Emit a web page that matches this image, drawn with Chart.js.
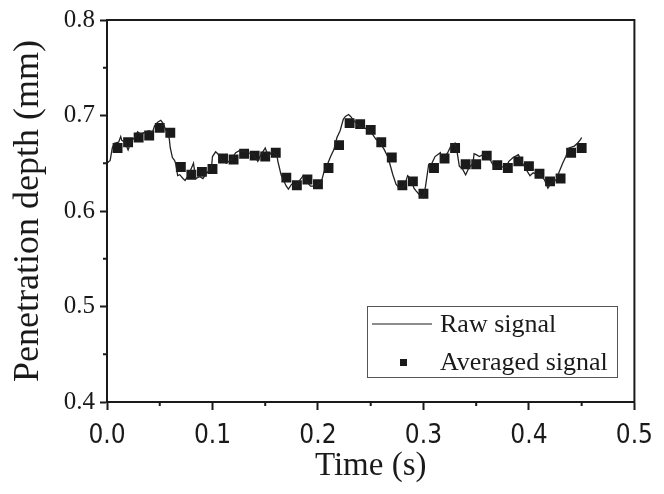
<!DOCTYPE html>
<html lang="en">
<head>
<meta charset="UTF-8">
<title>Penetration depth</title>
<script src="https://cdn.jsdelivr.net/npm/chart.js@4.4.1/dist/chart.umd.min.js"></script>
<style>
    body { margin: 0; background: #fff; }
    #wrap { width: 664px; height: 494px; }
</style>
</head>
<body>
<div id="wrap"><canvas id="grafico" width="664" height="494"></canvas></div>

<script>
    // raw signal
    const rawTime = [0, 0.003, 0.005, 0.007, 0.011, 0.013, 0.014, 0.017, 0.020, 0.023,
        0.027, 0.029, 0.032, 0.035, 0.040, 0.043, 0.045, 0.048, 0.051, 0.053,
        0.055, 0.059, 0.060, 0.062, 0.064, 0.065, 0.067, 0.069, 0.072, 0.074,
        0.077, 0.082, 0.084, 0.088, 0.091, 0.094, 0.099, 0.100, 0.103, 0.105,
        0.108, 0.113, 0.117, 0.122, 0.125, 0.130, 0.134, 0.139, 0.143, 0.145,
        0.150, 0.153, 0.156, 0.161, 0.162, 0.165, 0.167, 0.170, 0.172, 0.175,
        0.179, 0.182, 0.186, 0.189, 0.193, 0.198, 0.203, 0.206, 0.209, 0.212,
        0.215, 0.218, 0.221, 0.224, 0.226, 0.229, 0.231, 0.233, 0.237, 0.240,
        0.243, 0.247, 0.252, 0.255, 0.258, 0.263, 0.266, 0.268, 0.271, 0.274,
        0.277, 0.282, 0.285, 0.288, 0.291, 0.293, 0.297, 0.300, 0.302, 0.305,
        0.308, 0.311, 0.316, 0.317, 0.320, 0.323, 0.326, 0.330, 0.332, 0.334,
        0.337, 0.340, 0.343, 0.347, 0.348, 0.350, 0.353, 0.358, 0.362, 0.365,
        0.368, 0.373, 0.378, 0.381, 0.385, 0.390, 0.394, 0.397, 0.401, 0.404,
        0.408, 0.411, 0.415, 0.418, 0.421, 0.426, 0.429, 0.432, 0.435, 0.438,
        0.443, 0.446, 0.449, 0.450];
    const rawDepth = [0.650, 0.653, 0.666, 0.671, 0.672, 0.678, 0.674, 0.672, 0.664, 0.673,
        0.678, 0.683, 0.680, 0.682, 0.684, 0.682, 0.689, 0.693, 0.695, 0.692,
        0.687, 0.676, 0.666, 0.656, 0.653, 0.650, 0.637, 0.638, 0.634, 0.632,
        0.637, 0.650, 0.634, 0.636, 0.634, 0.639, 0.645, 0.657, 0.662, 0.660,
        0.654, 0.650, 0.653, 0.661, 0.663, 0.663, 0.661, 0.659, 0.652, 0.657,
        0.666, 0.657, 0.662, 0.659, 0.652, 0.638, 0.633, 0.626, 0.623, 0.628,
        0.626, 0.631, 0.637, 0.631, 0.626, 0.626, 0.630, 0.642, 0.649, 0.657,
        0.664, 0.677, 0.684, 0.696, 0.699, 0.701, 0.699, 0.696, 0.691, 0.687,
        0.688, 0.685, 0.680, 0.675, 0.673, 0.664, 0.657, 0.650, 0.638, 0.628,
        0.624, 0.626, 0.637, 0.634, 0.624, 0.621, 0.616, 0.614, 0.626, 0.649,
        0.650, 0.657, 0.661, 0.652, 0.657, 0.661, 0.668, 0.671, 0.661, 0.647,
        0.644, 0.638, 0.645, 0.650, 0.660, 0.659, 0.657, 0.660, 0.656, 0.650,
        0.645, 0.647, 0.645, 0.652, 0.656, 0.659, 0.650, 0.644, 0.637, 0.640,
        0.638, 0.638, 0.632, 0.624, 0.629, 0.633, 0.642, 0.650, 0.657, 0.666,
        0.668, 0.671, 0.675, 0.677];

    // averaged signal
    const avgTime = [0.01, 0.02, 0.03, 0.04, 0.05, 0.06, 0.07, 0.08, 0.09, 0.10,
        0.11, 0.12, 0.13, 0.14, 0.15, 0.16, 0.17, 0.18, 0.19, 0.20,
        0.21, 0.22, 0.23, 0.24, 0.25, 0.26, 0.27, 0.28, 0.29, 0.30,
        0.31, 0.32, 0.33, 0.34, 0.35, 0.36, 0.37, 0.38, 0.39, 0.40,
        0.41, 0.42, 0.43, 0.44, 0.45];
    const avgDepth = [0.666, 0.672, 0.677, 0.679, 0.687, 0.682, 0.646, 0.638, 0.641, 0.644,
        0.655, 0.654, 0.660, 0.658, 0.657, 0.661, 0.635, 0.627, 0.633, 0.628,
        0.645, 0.669, 0.692, 0.691, 0.685, 0.672, 0.656, 0.627, 0.631, 0.618,
        0.645, 0.655, 0.666, 0.649, 0.649, 0.658, 0.648, 0.645, 0.652, 0.647,
        0.639, 0.631, 0.634, 0.661, 0.666];

    // minor tick positions
    const minorX = [0.05, 0.15, 0.25, 0.35, 0.45];
    const minorY = [0.45, 0.55, 0.65, 0.75];

    const preto = '#1a1a1a';
    const serif = '"Liberation Serif", "Times New Roman", serif';
    const narrow = '"Liberation Sans Narrow", "DejaVu Sans Condensed", "Liberation Sans", sans-serif';

    // frame, minor ticks and the boxed legend
    const moldura = {
        id: 'moldura',
        afterDraw(chart) {
            const ctx = chart.ctx;
            const a = chart.chartArea;
            const sx = chart.scales.x, sy = chart.scales.y;
            ctx.save();
            ctx.strokeStyle = preto;
            ctx.lineWidth = 2;
            ctx.strokeRect(a.left, a.top, a.right - a.left, a.bottom - a.top);

            ctx.beginPath();
            minorX.forEach(function(v) {
                const px = sx.getPixelForValue(v);
                ctx.moveTo(px, a.bottom);
                ctx.lineTo(px, a.bottom + 4);
            });
            minorY.forEach(function(v) {
                const py = sy.getPixelForValue(v);
                ctx.moveTo(a.left, py);
                ctx.lineTo(a.left - 4, py);
            });
            ctx.stroke();

            // legend
            const ds = chart.data.datasets;
            ctx.lineWidth = 1;
            ctx.strokeStyle = '#555';
            ctx.strokeRect(367.5, 306.5, 250, 71);

            ctx.strokeStyle = preto;
            ctx.lineWidth = 1.2;
            ctx.beginPath();
            ctx.moveTo(372, 324);
            ctx.lineTo(432, 324);
            ctx.stroke();

            ctx.fillStyle = preto;
            ctx.fillRect(400, 359, 7, 7);

            ctx.font = '26px ' + serif;
            ctx.textBaseline = 'middle';
            ctx.textAlign = 'left';
            ctx.fillText(ds[0].label, 440, 325);
            ctx.fillText(ds[1].label, 440, 363);
            ctx.restore();
        }
    };

    const ctx = document.getElementById('grafico').getContext('2d');

    new Chart(ctx, {
        type: 'scatter',
        data: {
            datasets: [
                {
                    label: 'Raw signal',
                    data: rawTime.map(function(t, i) { return {x: t, y: rawDepth[i]}; }),
                    showLine: true,
                    borderColor: '#222',
                    borderWidth: 1.3,
                    pointRadius: 0,
                    tension: 0
                },
                {
                    label: 'Averaged signal',
                    data: avgTime.map(function(t, i) { return {x: t, y: avgDepth[i]}; }),
                    showLine: false,
                    pointStyle: 'rect',
                    pointRadius: 7,
                    backgroundColor: preto,
                    borderWidth: 0
                }
            ]
        },
        options: {
            responsive: false,
            animation: false,
            layout: { padding: { left: 0, top: 18, right: 19, bottom: 0 } },
            plugins: {
                legend: { display: false },
                tooltip: { enabled: false }
            },
            scales: {
                x: {
                    type: 'linear',
                    min: 0,
                    max: 0.5,
                    afterFit: function(s) { s.height = 92; },
                    ticks: {
                        stepSize: 0.1,
                        autoSkip: false,
                        maxRotation: 0,
                        padding: 11,
                        color: preto,
                        font: { family: narrow, size: 26 },
                        callback: function(v) { return v.toFixed(1); }
                    },
                    grid: {
                        drawOnChartArea: false,
                        tickLength: 8,
                        tickWidth: 2,
                        tickColor: preto
                    },
                    border: { width: 2, color: preto },
                    title: {
                        display: true,
                        text: 'Time (s)',
                        color: preto,
                        font: { family: serif, size: 33 },
                        padding: { top: 0, bottom: 8 }
                    }
                },
                y: {
                    min: 0.4,
                    max: 0.8,
                    afterFit: function(s) { s.width = 107; },
                    ticks: {
                        stepSize: 0.1,
                        padding: 5,
                        color: preto,
                        font: { family: serif, size: 25 },
                        callback: function(v) { return v.toFixed(1); }
                    },
                    grid: {
                        drawOnChartArea: false,
                        tickLength: 7,
                        tickWidth: 2,
                        tickColor: preto
                    },
                    border: { width: 2, color: preto },
                    title: {
                        display: true,
                        text: 'Penetration depth (mm)',
                        color: preto,
                        font: { family: serif, size: 36 },
                        padding: { top: 7, bottom: 0 }
                    }
                }
            }
        },
        plugins: [moldura]
    });
</script>
</body>
</html>
